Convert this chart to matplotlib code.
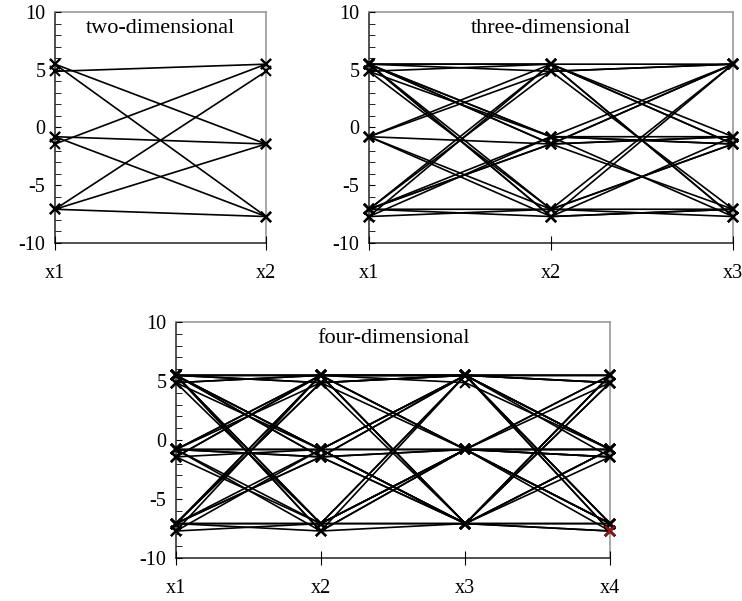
import matplotlib
matplotlib.use("Agg")
import matplotlib.pyplot as plt
from matplotlib.ticker import MultipleLocator

plt.rcParams['font.family'] = ['Liberation Serif', 'DejaVu Serif']
plt.rcParams['axes.unicode_minus'] = False

# optimum levels (shubert-like)
T, t, M, m, B, b = 5.48, 4.86, -0.80, -1.43, -7.08, -7.71

sols_2d = [
    (t, T), (T, m), (T, b),
    (m, T), (M, m), (M, b),
    (B, t), (B, m), (B, b),
]

sols_3d = [
    (T, T, m), (T, T, b), (T, M, m), (T, m, T), (T, m, M), (T, B, b),
    (T, b, T), (T, b, B), (t, T, M), (t, M, T), (t, B, B), (M, t, T),
    (M, m, M), (M, b, B), (M, T, m), (B, t, B), (B, T, b), (B, m, T),
    (B, M, m), (B, m, B), (B, b, M), (b, T, T), (b, M, M), (b, B, T),
    (T, M, b), (M, B, m), (B, B, m), (T, t, T),
]

sols_4d = [
    (T, T, T, t), (T, T, M, m), (T, T, B, b), (T, t, T, T), (T, t, M, M),
    (T, M, T, t), (T, M, M, m), (T, m, B, B), (T, m, T, M), (T, B, M, t),
    (T, b, T, B), (T, b, M, T), (T, B, B, b), (t, T, T, T), (t, M, B, M),
    (t, B, M, B), (t, T, M, B), (M, T, T, m), (M, t, T, B), (M, m, M, T),
    (M, M, B, t), (M, b, B, M), (M, B, T, b), (M, m, B, B), (m, T, B, T),
    (m, M, M, M), (m, B, T, B), (m, T, T, M), (B, t, T, T), (B, T, M, b),
    (B, M, T, t), (B, m, T, M), (B, b, M, M), (B, B, B, t), (B, m, M, B),
    (B, T, B, m), (b, T, T, M), (b, M, B, T), (b, B, M, B), (B, t, B, M),
    (M, T, t, M), (B, B, M, m), (T, M, B, T), (M, M, T, b),
]
red_point = (3, b)

fig = plt.figure(figsize=(7.42, 6.01), dpi=100)

def setup(ax, sols, title):
    n = len(sols[0])
    xs = list(range(n))
    for s in sols:
        ax.plot(xs, s, color='black', lw=1.2, marker='x', ms=7, mew=1.5, clip_on=False)
    ax.set_xlim(0, n - 1)
    ax.set_ylim(-10, 10)
    ax.set_xticks(xs)
    ax.set_xticklabels(['x%d' % (i + 1) for i in xs])
    ax.set_yticks([-10, -5, 0, 5, 10])
    ax.yaxis.set_minor_locator(MultipleLocator(1))
    ax.tick_params(axis='y', which='both', direction='in', length=4, pad=7, labelsize=14.5)
    ax.tick_params(axis='x', direction='inout', length=10, pad=10, labelsize=14.5)
    for side in ['top', 'right']:
        ax.spines[side].set_color('#999999')
    for side in ['left', 'bottom']:
        ax.spines[side].set_color('#333333')
    ax.text(0.5, 0.93, title, transform=ax.transAxes, ha='center', va='center', fontsize=16)
    for s in ax.spines.values():
        s.set_zorder(0)
        s.set_linewidth(1.2)

ax1 = fig.add_axes([0.0741, 0.5957, 0.2844, 0.3844])
setup(ax1, sols_2d, 'two-dimensional')
ax2 = fig.add_axes([0.4973, 0.5957, 0.4906, 0.3844])
setup(ax2, sols_3d, 'three-dimensional')
ax3 = fig.add_axes([0.2372, 0.0715, 0.5850, 0.3927])
setup(ax3, sols_4d, 'four-dimensional')
ax3.plot([red_point[0]], [red_point[1]], 'x', color='#a01010', ms=7, mew=1.5, clip_on=False, zorder=5)

fig.savefig('out.png', dpi=100)
